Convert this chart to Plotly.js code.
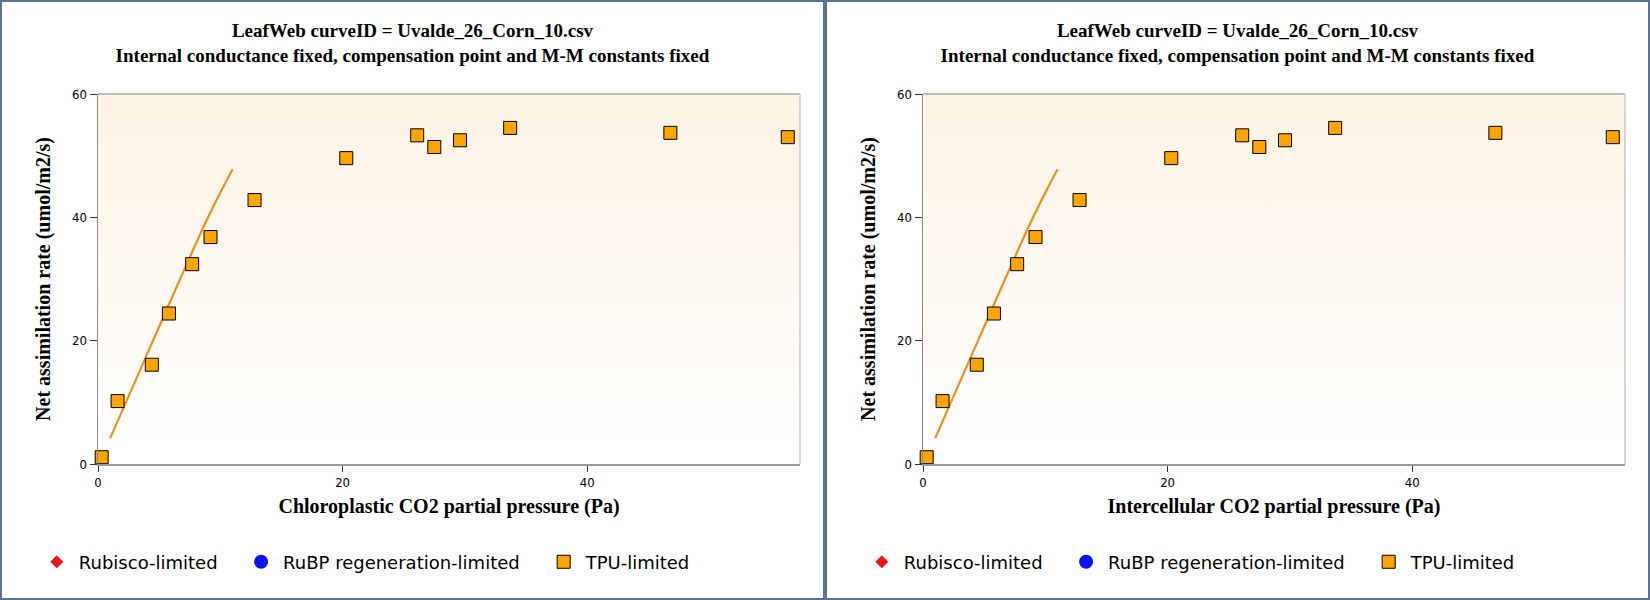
<!DOCTYPE html>
<html>
<head>
<meta charset="utf-8">
<script src="https://cdn.plot.ly/plotly-3.0.1.min.js"></script>
<style>
  body { margin: 0; background: #fff; }
  #wrap { display: flex; width: 1650px; height: 600px; }
  .panel { width: 825px; height: 600px; box-sizing: border-box; border: 2px solid #5b7393; }
</style>
</head>
<body>
<div id="wrap">
  <div class="panel" id="left"></div>
  <div class="panel" id="right"></div>
</div>
<script>
// measured points (TPU-limited)
const co2 = [0.3, 1.6, 4.4, 5.8, 7.7, 9.2, 12.8, 20.3, 26.1, 27.5, 29.6, 33.7, 46.8, 56.4];
const assim = [1.1, 10.2, 16.1, 24.4, 32.4, 36.8, 42.8, 49.6, 53.3, 51.4, 52.5, 54.5, 53.7, 53.0];

// fitted curve
const fitX = [1.0, 4.5, 9.0, 11.0];
const fitY = [4.2, 20.0, 40.0, 47.8];

const xRange = [0, 57.4];
const yRange = [0, 60];
const yTicks = [0, 20, 40, 60];
const xTicks = [0, 20, 40];

const titleText = 'LeafWeb curveID = Uvalde_26_Corn_10.csv<br>Internal conductance fixed, compensation point and M-M constants fixed';
const yTitle = 'Net assimilation rate (umol/m2/s)';

const serif = 'Liberation Serif, Times New Roman, serif';
const sans = 'DejaVu Sans Condensed, DejaVu Sans, sans-serif';

function legendBox(x) {
  return {
    orientation: 'h', x: x, xanchor: 'left', y: -0.265, yanchor: 'middle', itemwidth: 34,
    font: {family: 'DejaVu Sans, sans-serif', size: 18, color: '#000'}, bgcolor: 'rgba(0,0,0,0)'
  };
}

function draw(id, xTitle) {
  const bg = {
    x: [xRange[0], xRange[1], xRange[1], xRange[0], xRange[0]],
    y: [yRange[0], yRange[0], yRange[1], yRange[1], yRange[0]],
    mode: 'none', fill: 'toself',
    fillgradient: {type: 'vertical', colorscale: [[0, '#ffffff'], [1, '#fcf3e4']]},
    hoverinfo: 'skip', showlegend: false
  };
  const fit = {
    x: fitX, y: fitY, mode: 'lines',
    line: {color: '#f0901c', width: 2.2, shape: 'spline'},
    showlegend: false, hoverinfo: 'skip'
  };
  // no points fall in these limitation states, kept for the legend
  const rubisco = {
    x: [null], y: [null], mode: 'markers', name: 'Rubisco-limited', legend: 'legend',
    marker: {symbol: 'diamond', color: '#e8161c', size: 10}
  };
  const rubp = {
    x: [null], y: [null], mode: 'markers', name: 'RuBP regeneration-limited', legend: 'legend2',
    marker: {symbol: 'circle', color: '#0a14f0', size: 14}
  };
  const tpu = {
    x: co2, y: assim, mode: 'markers', name: 'TPU-limited', legend: 'legend3', cliponaxis: false,
    marker: {symbol: 'square', color: '#ffa500', size: 13, line: {color: '#000', width: 1}}
  };

  const layout = {
    width: 821, height: 596,
    margin: {l: 96, r: 23, t: 92, b: 134},
    paper_bgcolor: '#ffffff',
    plot_bgcolor: '#ffffff',
    title: {
      text: titleText, xref: 'container', x: 0.5, yref: 'container', y: 0.941, yanchor: 'top',
      font: {family: serif, size: 19, color: '#000', weight: 'bold'}
    },
    xaxis: {
      range: xRange, tickvals: xTicks, ticks: 'outside', ticklen: 6, tickcolor: '#333',
      showgrid: true, gridcolor: '#cfcfcf', zeroline: false,
      showline: true, linecolor: '#999', linewidth: 1.5,
      tickfont: {family: sans, size: 13, color: '#000'},
      title: {text: xTitle, standoff: 10, font: {family: serif, size: 20, color: '#000', weight: 'bold'}}
    },
    yaxis: {
      range: yRange, tickvals: yTicks, ticks: 'outside', ticklen: 7, tickcolor: '#333',
      showgrid: true, gridcolor: '#cfcfcf', zeroline: false,
      showline: true, linecolor: '#8a8a8a', linewidth: 1.5,
      tickfont: {family: sans, size: 13, color: '#000'},
      title: {text: yTitle, standoff: 16, font: {family: serif, size: 20, color: '#000', weight: 'bold'}}
    },
    shapes: [
      {type: 'line', xref: 'paper', yref: 'paper', x0: 0, x1: 1, y0: 1, y1: 1, line: {color: '#a8a8a8', width: 1.5}},
      {type: 'line', xref: 'paper', yref: 'paper', x0: 1, x1: 1, y0: 0, y1: 1, line: {color: '#c8c8c8', width: 1.5}}
    ],
    legend: legendBox(-0.09),
    legend2: legendBox(0.201),
    legend3: legendBox(0.632),
    showlegend: true
  };
  Plotly.newPlot(id, [bg, fit, rubisco, rubp, tpu], layout, {displayModeBar: false, staticPlot: true});
}

draw('left', 'Chloroplastic CO2 partial pressure (Pa)');
draw('right', 'Intercellular CO2 partial pressure (Pa)');
</script>
</body>
</html>
